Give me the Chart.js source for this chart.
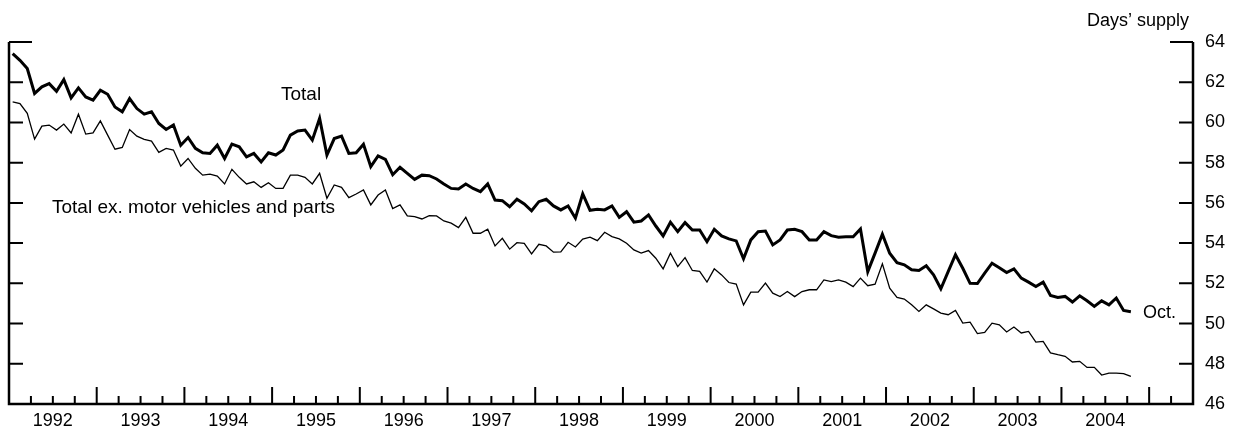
<!DOCTYPE html>
<html>
<head>
<meta charset="utf-8">
<script src="https://cdn.jsdelivr.net/npm/chart.js@4.4.1/dist/chart.umd.min.js"></script>
<style>
  html, body { margin: 0; padding: 0; background: #fff; }
</style>
</head>
<body>
<canvas id="supplyChart" width="1238" height="428"></canvas>
<script>
// Manufacturing & trade inventories, days' supply, monthly Jan 1992 – Oct 2004.
const yearLabels = [
  '1992','1993','1994','1995','1996','1997','1998',
  '1999','2000','2001','2002','2003','2004'
];

// Total (thick line), one value per month.
const totalSupply = [
  63.42,63.09,62.68,61.44,61.77,61.93,61.55,62.13,61.22,61.72,61.27,61.11,
  61.60,61.40,60.77,60.53,61.19,60.69,60.41,60.53,59.95,59.65,59.87,58.87,
  59.25,58.71,58.49,58.46,58.87,58.21,58.92,58.79,58.29,58.46,58.04,58.49,
  58.38,58.63,59.37,59.58,59.62,59.12,60.20,58.38,59.20,59.32,58.46,58.49,
  58.92,57.80,58.34,58.16,57.40,57.77,57.47,57.17,57.38,57.35,57.19,56.94,
  56.72,56.69,56.94,56.72,56.56,56.94,56.14,56.11,55.81,56.18,55.95,55.61,
  56.06,56.18,55.85,55.65,55.85,55.24,56.45,55.63,55.68,55.65,55.85,55.28,
  55.56,55.04,55.10,55.40,54.85,54.36,55.04,54.57,55.02,54.65,54.65,54.07,
  54.69,54.36,54.21,54.11,53.22,54.16,54.57,54.60,53.91,54.16,54.65,54.69,
  54.57,54.16,54.16,54.57,54.37,54.29,54.32,54.32,54.70,52.58,53.50,54.44,
  53.50,53.03,52.92,52.67,52.64,52.87,52.42,51.73,52.58,53.42,52.75,52.00,
  51.99,52.51,53.00,52.78,52.54,52.72,52.26,52.06,51.84,52.06,51.40,51.30,
  51.35,51.07,51.38,51.13,50.85,51.13,50.93,51.27,50.65,50.59
];

// Total excluding motor vehicles and parts (thin line).
const exMotorSupply = [
  61.02,60.94,60.45,59.17,59.82,59.87,59.62,59.92,59.48,60.41,59.42,59.48,
  60.08,59.37,58.67,58.76,59.65,59.32,59.16,59.07,58.51,58.71,58.63,57.83,
  58.21,57.72,57.38,57.43,57.33,56.94,57.67,57.27,56.94,57.05,56.77,57.00,
  56.72,56.72,57.38,57.38,57.27,56.94,57.47,56.23,56.89,56.77,56.26,56.44,
  56.64,55.90,56.39,56.64,55.72,55.90,55.35,55.32,55.20,55.36,55.35,55.10,
  54.99,54.77,55.28,54.49,54.49,54.69,53.86,54.24,53.70,54.02,53.99,53.46,
  53.94,53.86,53.55,53.56,54.04,53.81,54.20,54.30,54.12,54.54,54.32,54.21,
  53.99,53.66,53.50,53.63,53.25,52.72,53.50,52.83,53.28,52.64,52.59,52.06,
  52.72,52.42,52.04,51.96,50.93,51.56,51.56,52.01,51.51,51.34,51.59,51.34,
  51.59,51.68,51.68,52.17,52.09,52.17,52.06,51.84,52.26,51.88,51.96,52.97,
  51.76,51.30,51.22,50.93,50.60,50.93,50.73,50.52,50.44,50.65,50.02,50.07,
  49.50,49.56,50.02,49.94,49.58,49.83,49.53,49.61,49.08,49.11,48.54,48.45,
  48.37,48.09,48.12,47.82,47.82,47.44,47.54,47.54,47.51,47.37
];

// Right-hand scale, days' supply.
const yTickValues = [46,48,50,52,54,56,58,60,62,64];

const FONT = 'Arial, "Liberation Sans", Helvetica, sans-serif';
const MONTHS_SHOWN = 162; // Jan 1992 through mid-2005

// points sit mid-month
const asPoints = arr => arr.map((v, i) => ({ x: i + 0.5, y: v }));

// Inward-pointing ticks and the L/U shaped frame, drawn off the chart's own scales.
const frameAxes = {
  id: 'frameAxes',
  afterDatasetsDraw(chart) {
    const { ctx, chartArea: a, scales: { x, y } } = chart;
    const yTop = y.getPixelForValue(64);
    ctx.save();
    ctx.strokeStyle = '#000';
    ctx.lineWidth = 2.5;
    ctx.beginPath();
    ctx.moveTo(a.left, yTop);
    ctx.lineTo(a.left, a.bottom);
    ctx.lineTo(a.right, a.bottom);
    ctx.lineTo(a.right, yTop);
    ctx.stroke();

    ctx.lineWidth = 2;
    ctx.beginPath();
    yTickValues.forEach(v => {
      if (v === 46) return;
      const py = y.getPixelForValue(v);
      const len = v === 64 ? 23 : 14;
      ctx.moveTo(a.left, py);
      ctx.lineTo(a.left + len, py);
      ctx.moveTo(a.right, py);
      ctx.lineTo(a.right - len, py);
    });
    for (let m = 3; m < MONTHS_SHOWN; m += 3) {
      const px = x.getPixelForValue(m);
      const len = m % 12 === 0 ? 17 : 8;
      ctx.moveTo(px, a.bottom);
      ctx.lineTo(px, a.bottom - len);
    }
    ctx.stroke();
    ctx.restore();
  }
};

// Series names and the axis unit.
const textNotes = {
  id: 'textNotes',
  afterDraw(chart) {
    const { ctx } = chart;
    ctx.save();
    ctx.fillStyle = '#000';
    ctx.textBaseline = 'alphabetic';
    ctx.font = '19px ' + FONT;
    ctx.textAlign = 'left';
    ctx.fillText('Total', 281, 100);
    ctx.fillText('Total ex. motor vehicles and parts', 52, 213);
    ctx.font = '18px ' + FONT;
    ctx.fillText('Oct.', 1143, 318);
    ctx.textAlign = 'right';
    ctx.fillText('Days\u2019 supply', 1189, 26);
    ctx.restore();
  }
};

new Chart(document.getElementById('supplyChart').getContext('2d'), {
  type: 'line',
  data: {
    datasets: [
      {
        label: 'Total',
        data: asPoints(totalSupply),
        borderColor: '#000',
        borderWidth: 3,
        pointRadius: 0,
        tension: 0
      },
      {
        label: 'Total ex. motor vehicles and parts',
        data: asPoints(exMotorSupply),
        borderColor: '#000',
        borderWidth: 1.3,
        pointRadius: 0,
        tension: 0
      }
    ]
  },
  options: {
    responsive: false,
    animation: false,
    events: [],
    layout: { autoPadding: false, padding: { left: 9, top: 42, right: 0, bottom: 0 } },
    plugins: {
      legend: { display: false },
      tooltip: { enabled: false }
    },
    scales: {
      x: {
        type: 'linear',
        min: 0,
        max: MONTHS_SHOWN,
        grid: { display: false, drawTicks: false },
        border: { display: false },
        afterBuildTicks: scale => {
          scale.ticks = yearLabels.map((_, i) => ({ value: i * 12 + 6 }));
        },
        afterFit: scale => { scale.height = 24; },
        ticks: {
          autoSkip: false,
          maxRotation: 0,
          padding: 6,
          color: '#000',
          font: { family: FONT, size: 18 },
          callback: v => yearLabels[Math.floor(v / 12)]
        }
      },
      y: {
        position: 'right',
        min: 46,
        max: 64,
        grid: { display: false, drawTicks: false },
        border: { display: false },
        afterBuildTicks: scale => {
          scale.ticks = yTickValues.map(v => ({ value: v }));
        },
        afterFit: scale => { scale.width = 45; },
        ticks: {
          padding: 12,
          color: '#000',
          font: { family: FONT, size: 18 }
        }
      }
    }
  },
  plugins: [frameAxes, textNotes]
});
</script>
</body>
</html>
